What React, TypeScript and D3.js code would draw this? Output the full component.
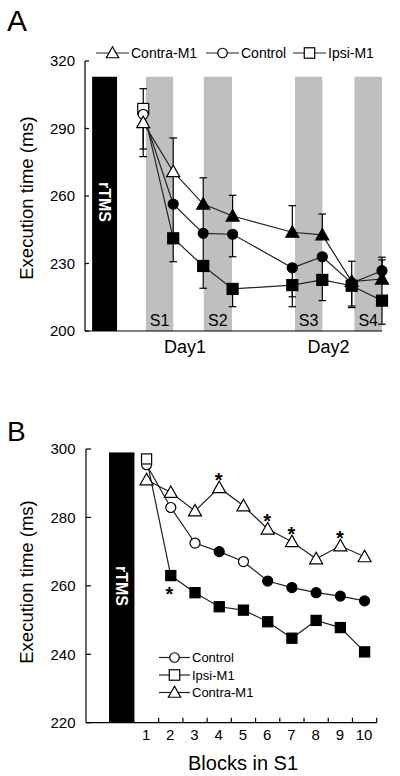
import React from "react";
import * as d3 from "d3";

// ---------- Panel A data ----------
const seriesA = ["Contra-M1", "Control", "Ipsi-M1"];
const timePointsA = [1.96, 2.97, 3.98, 4.97, 6.98, 7.99, 8.98, 10];
const contraA = [292.6, 270.8, 256.4, 251.1, 243.9, 242.7, 222.0, 223.1];
const controlA = [296.3, 256.4, 243.4, 243.0, 228.1, 233.0, 221.3, 226.8];
const ipsiA = [298.7, 241.2, 228.9, 218.7, 220.4, 222.7, 220.1, 213.5];
const contraFilledA = [false, false, true, true, true, true, true, true];
const controlFilledA = [false, true, true, true, true, true, true, true];
const ipsiFilledA = [false, true, true, true, true, true, true, true];
const contraUpA = [0, 15, 11.7, 9.2, 11.8, 9.3, 9, 8.5];
const contraDownA = [11.7, 15, 13, 0, 0, 0, 0, 9.6];
const controlUpA = [0, 0, 0, 0, 0, 0, 0, 6];
const controlDownA = [18.8, 15, 14.5, 10, 12.9, 10.3, 10.2, 0];
const ipsiUpA = [9, 0, 0, 0, 0, 0, 0, 0];
const ipsiDownA = [0, 10.4, 9.9, 7.9, 9.6, 9.2, 9.7, 10.5];
const sessionLabels = ["S1", "S2", "S3", "S4"];
const sessionStart = [2.05, 4.0, 7.07, 9.07];
const sessionEnd = [2.97, 4.95, 7.99, 10];
const dayLabels = ["Day1", "Day2"];
const dayPos = [3.37, 8.2];
const yTicksA = [200, 230, 260, 290, 320];
const rtmsA = [0.24, 1.08];
const barTopA = 313;

// ---------- Panel B data ----------
const blocks = [1, 2, 3, 4, 5, 6, 7, 8, 9, 10];
const controlB = [295.4, 282.9, 272.5, 270.0, 267.1, 261.4, 259.5, 258.0, 257.0, 255.6];
const controlFilledB = [false, false, false, true, false, true, true, true, true, true];
const ipsiB = [297.1, 263.0, 258.0, 253.9, 252.9, 249.5, 244.7, 249.9, 247.8, 240.7];
const ipsiFilledB = [false, true, true, true, true, true, true, true, true, true];
const contraB = [291.0, 287.3, 281.9, 288.7, 283.4, 276.6, 272.9, 267.9, 271.7, 268.5];
const contraStars = [4, 6, 7, 9];
const ipsiStars = [2];
const yTicksB = [220, 240, 260, 280, 300];
const legendB = ["Control", "Ipsi-M1", "Contra-M1"];
const rtmsB = [-0.55, 0.5];
const barTopB = 299;

const FONT = "'Liberation Sans', Arial, Helvetica, sans-serif";
const LINE = "#222";

type Shape = "circle" | "square" | "triangle";

function Marker({ shape, x, y, filled, s = 1 }: { shape: Shape; x: number; y: number; filled: boolean; s?: number }) {
  const fill = filled ? "#000" : "#fff";
  const common = { fill, stroke: "#000", strokeWidth: 1.2 };
  if (shape === "circle") return <circle cx={x} cy={y} r={5 * s} {...common} />;
  if (shape === "square") {
    const h = 5.5 * s;
    return <rect x={x - h} y={y - h} width={2 * h} height={2 * h} {...common} />;
  }
  const w = 6.5 * s;
  return <polygon points={`${x},${y - 6.5 * s} ${x - w},${y + 5 * s} ${x + w},${y + 5 * s}`} {...common} />;
}

function LegendItem({ shape, x, y, label, len, fs }: { shape: Shape; x: number; y: number; label: string; len: number; fs: number }) {
  return (
    <g>
      <line x1={x} x2={x + len} y1={y} y2={y} stroke={LINE} strokeWidth={1.2} />
      <Marker shape={shape} x={x + len / 2} y={y} filled={false} s={0.95} />
      <text x={x + len + 2} y={y + fs * 0.36} fontSize={fs} fontFamily={FONT}>{label}</text>
    </g>
  );
}

export default function App() {
  // Panel A scales
  const xA = d3.scaleLinear().domain([0, 10]).range([85, 382]);
  const yA = d3.scaleLinear().domain([200, 320]).range([331, 61]);
  // Panel B scales
  const xB = d3.scaleLinear().domain([-1.5, 10.5]).range([86, 376.7]);
  const yB = d3.scaleLinear().domain([220, 300]).range([722.7, 449]);

  const lineA = d3.line<number>().x((_, i) => xA(timePointsA[i])).y((v) => yA(v));
  const lineB = d3.line<number>().x((_, i) => xB(blocks[i])).y((v) => yB(v));

  const seriesDefsA: { vals: number[]; up: number[]; down: number[]; shape: Shape; filled: boolean[] }[] = [
    { vals: contraA, up: contraUpA, down: contraDownA, shape: "triangle", filled: contraFilledA },
    { vals: controlA, up: controlUpA, down: controlDownA, shape: "circle", filled: controlFilledA },
    { vals: ipsiA, up: ipsiUpA, down: ipsiDownA, shape: "square", filled: ipsiFilledA },
  ];

  const errBar = (x: number, v: number, e: number, dir: number, key: string) => {
    if (!e) return null;
    const y0 = yA(v);
    const y1 = yA(v + dir * e);
    return (
      <g key={key} stroke="#000" strokeWidth={1.2}>
        <line x1={x} x2={x} y1={y0} y2={y1} />
        <line x1={x - 3.8} x2={x + 3.8} y1={y1} y2={y1} />
      </g>
    );
  };

  const shapesA: Shape[] = ["triangle", "circle", "square"];
  const legendAX = [96, 206, 293];
  const shapesB: Shape[] = ["circle", "square", "triangle"];

  return (
    <svg width={400} height={776} style={{ position: "absolute", left: 0, top: 0, background: "#fff" }} fontFamily={FONT}>
      <rect width={400} height={776} fill="#fff" />
      {/* ================= Panel A ================= */}
      <text x={7} y={31} fontSize={30} fontFamily={FONT}>A</text>
      {/* legend */}
      {seriesA.map((s, i) => (
        <LegendItem key={s} shape={shapesA[i]} x={legendAX[i]} y={53} label={s} len={33} fs={14} />
      ))}
      {/* gray session bars */}
      {sessionLabels.map((s, i) => (
        <g key={s}>
          <rect x={xA(sessionStart[i])} y={yA(barTopA)} width={xA(sessionEnd[i]) - xA(sessionStart[i])} height={yA(200) - yA(barTopA)} fill="#bfbfbf" />
          <text x={(xA(sessionStart[i]) + xA(sessionEnd[i])) / 2} y={325.5} fontSize={16} textAnchor="middle">{s}</text>
        </g>
      ))}
      {/* rTMS bar */}
      <rect x={xA(rtmsA[0])} y={yA(barTopA)} width={xA(rtmsA[1]) - xA(rtmsA[0])} height={yA(200) - yA(barTopA)} fill="#000" />
      <text transform={`translate(${(xA(rtmsA[0]) + xA(rtmsA[1])) / 2 - 5.5},202) rotate(90)`} fontSize={16} fontWeight="bold" fill="#fff" textAnchor="middle">rTMS</text>
      {/* axes */}
      <line x1={xA(0)} x2={xA(0)} y1={yA(320)} y2={yA(200)} stroke="#000" strokeWidth={1.2} />
      <line x1={xA(0)} x2={xA(10)} y1={yA(200)} y2={yA(200)} stroke="#000" strokeWidth={1.2} />
      {yTicksA.map((t) => (
        <g key={t}>
          <line x1={xA(0)} x2={xA(0) + 4} y1={yA(t)} y2={yA(t)} stroke="#000" strokeWidth={1.2} />
          <text x={75} y={yA(t) + 5.4} fontSize={15} textAnchor="end">{t}</text>
        </g>
      ))}
      {dayLabels.map((d, i) => (
        <text key={d} x={xA(dayPos[i])} y={353} fontSize={18} textAnchor="middle">{d}</text>
      ))}
      <text transform="translate(33,198) rotate(-90)" fontSize={18.5} textAnchor="middle">Execution time (ms)</text>
      {/* series lines */}
      {seriesDefsA.map((s, k) => (
        <path key={k} d={lineA(s.vals) || ""} fill="none" stroke={LINE} strokeWidth={1.2} />
      ))}
      {/* error bars */}
      {seriesDefsA.map((s, k) =>
        s.vals.map((v, i) => (
          <g key={`e${k}-${i}`}>
            {errBar(xA(timePointsA[i]), v, s.up[i], 1, `u${k}${i}`)}
            {errBar(xA(timePointsA[i]), v, s.down[i], -1, `d${k}${i}`)}
          </g>
        ))
      )}
      {/* markers */}
      {[2, 1, 0].map((k) =>
        seriesDefsA[k].vals.map((v, i) => (
          <Marker key={`m${k}-${i}`} shape={seriesDefsA[k].shape} x={xA(timePointsA[i])} y={yA(v)} filled={seriesDefsA[k].filled[i]} />
        ))
      )}

      {/* ================= Panel B ================= */}
      <text x={7} y={441} fontSize={28}>B</text>
      <rect x={xB(rtmsB[0])} y={yB(barTopB)} width={xB(rtmsB[1]) - xB(rtmsB[0])} height={yB(220) - yB(barTopB)} fill="#000" />
      <text transform={`translate(${(xB(rtmsB[0]) + xB(rtmsB[1])) / 2 - 5.5},586) rotate(90)`} fontSize={16} fontWeight="bold" fill="#fff" textAnchor="middle">rTMS</text>
      <line x1={xB(-1.5)} x2={xB(-1.5)} y1={yB(300)} y2={yB(220)} stroke="#000" strokeWidth={1.2} />
      <line x1={xB(-1.5)} x2={xB(10.5)} y1={yB(220)} y2={yB(220)} stroke="#000" strokeWidth={1.2} />
      {yTicksB.map((t) => (
        <g key={t}>
          <line x1={xB(-1.5)} x2={xB(-1.5) + 5} y1={yB(t)} y2={yB(t)} stroke="#000" strokeWidth={1.2} />
          <text x={75.5} y={yB(t) + 5.4} fontSize={15} textAnchor="end">{t}</text>
        </g>
      ))}
      {blocks.map((b) => (
        <g key={b}>
          <line x1={xB(b + 0.5)} x2={xB(b + 0.5)} y1={yB(220)} y2={yB(220) - 5} stroke="#000" strokeWidth={1.2} />
          <text x={xB(b) - 0.5} y={739.5} fontSize={15} textAnchor="middle">{b}</text>
        </g>
      ))}
      <text x={243} y={769.5} fontSize={20} textAnchor="middle">Blocks in S1</text>
      <text transform="translate(33,582) rotate(-90)" fontSize={18.5} textAnchor="middle">Execution time (ms)</text>
      {/* lines */}
      <path d={lineB(controlB) || ""} fill="none" stroke={LINE} strokeWidth={1.2} />
      <path d={lineB(ipsiB) || ""} fill="none" stroke={LINE} strokeWidth={1.2} />
      <path d={lineB(contraB) || ""} fill="none" stroke={LINE} strokeWidth={1.2} />
      {/* markers */}
      {contraB.map((v, i) => (
        <Marker key={`ct${i}`} shape="triangle" x={xB(blocks[i])} y={yB(v)} filled={false} />
      ))}
      {controlB.map((v, i) => (
        <Marker key={`co${i}`} shape="circle" x={xB(blocks[i])} y={yB(v)} filled={controlFilledB[i]} />
      ))}
      {ipsiB.map((v, i) => (
        <Marker key={`ip${i}`} shape="square" x={xB(blocks[i])} y={yB(v)} filled={ipsiFilledB[i]} s={0.92} />
      ))}
      {/* stars */}
      {contraStars.map((b) => (
        <text key={`sc${b}`} x={xB(b) - 0.5} y={yB(contraB[b - 1]) - 12.5 + 11.4} fontSize={20} fontWeight="bold" textAnchor="middle">*</text>
      ))}
      {ipsiStars.map((b) => (
        <text key={`si${b}`} x={xB(b) - 1.5} y={yB(ipsiB[b - 1]) + 14 + 11.4} fontSize={20} fontWeight="bold" textAnchor="middle">*</text>
      ))}
      {/* legend */}
      {legendB.map((l, i) => (
        <LegendItem key={l} shape={shapesB[i]} x={159} y={657.5 + i * 17.5} label={l} len={31} fs={13} />
      ))}
    </svg>
  );
}
